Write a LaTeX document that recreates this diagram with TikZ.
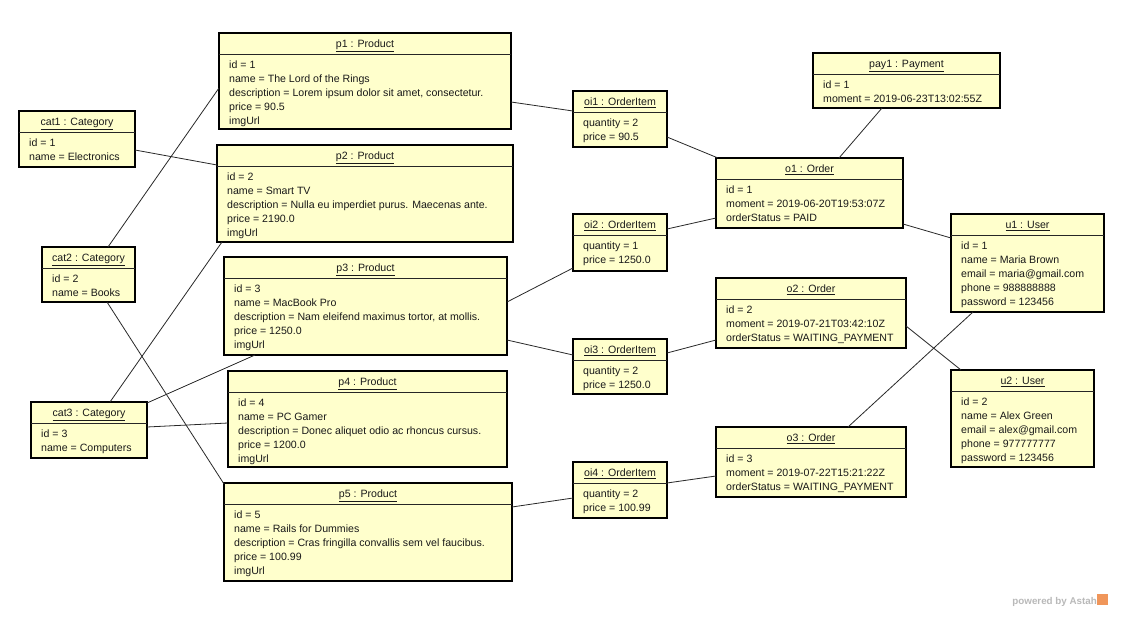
\documentclass[tikz,border=0pt]{standalone}
\usepackage{fontspec}
\setmainfont{Liberation Sans}
\usetikzlibrary{calc}
\definecolor{objfill}{RGB}{255,255,204}
\definecolor{txt}{RGB}{25,25,25}
\definecolor{conn}{RGB}{40,40,40}
\definecolor{astahgray}{RGB}{185,185,185}
\definecolor{astahorange}{RGB}{240,150,90}
\tikzset{
  objbox/.style={draw=black, line width=1.7pt, fill=objfill, rectangle, inner sep=0pt, outer sep=0pt},
  sepline/.style={draw=black!85, line width=0.8pt},
  objtitle/.style={inner sep=0pt, anchor=base, text=txt, font=\fontsize{10.6}{14}\selectfont},
  attr/.style={inner sep=0pt, anchor=base west, text=txt, font=\fontsize{10.6}{14}\selectfont},
  link/.style={draw=conn, line width=0.8pt},
}
\newcommand\obj[7]{%
  \node[objbox, minimum width=#4pt, minimum height=#5pt, anchor=north west] (#1) at (#2,#3) {};
  \draw[sepline] ([yshift=-21pt]#1.north west) -- ([yshift=-21pt]#1.north east);
  \node[objtitle] (#1-t) at ([yshift=-14.5pt]#1.north) {\underline{#6}};
  \foreach \l [count=\i] in {#7}
    \node[attr] (#1-a\i) at ([xshift=10pt, yshift={-35.5pt-(\i-1)*14pt}]#1.north west) {\l};
}
\begin{document}
\begin{tikzpicture}[x=1pt, y=-1pt]
\useasboundingbox[fill=white] (0,0) rectangle (1145,618);
% categories
\obj{cat1}{19}{111}{116}{56}{cat1 : Category}{id = 1, name = Electronics}
\obj{cat2}{42}{247}{93}{55}{cat2 : Category}{id = 2, name = Books}
\obj{cat3}{31}{402}{116}{56}{cat3 : Category}{id = 3, name = Computers}
% products
\obj{p1}{219}{33}{292}{96}{p1 : Product}{id = 1, name = The Lord of the Rings, {description = Lorem ipsum dolor sit amet, consectetur.}, price = 90.5, imgUrl}
\obj{p2}{217}{145}{296}{97}{p2 : Product}{id = 2, name = Smart TV, description = Nulla eu imperdiet purus. Maecenas ante., price = 2190.0, imgUrl}
\obj{p3}{224}{257}{283}{98}{p3 : Product}{id = 3, name = MacBook Pro, {description = Nam eleifend maximus tortor, at mollis.}, price = 1250.0, imgUrl}
\obj{p4}{228}{371}{279}{96}{p4 : Product}{id = 4, name = PC Gamer, description = Donec aliquet odio ac rhoncus cursus., price = 1200.0, imgUrl}
\obj{p5}{224}{483}{288}{98}{p5 : Product}{id = 5, name = Rails for Dummies, description = Cras fringilla convallis sem vel faucibus., price = 100.99, imgUrl}
% order items
\obj{oi1}{573}{91}{94}{56}{oi1 : OrderItem}{quantity = 2, price = 90.5}
\obj{oi2}{573}{214}{94}{57}{oi2 : OrderItem}{quantity = 1, price = 1250.0}
\obj{oi3}{573}{339}{94}{55}{oi3 : OrderItem}{quantity = 2, price = 1250.0}
\obj{oi4}{573}{462}{94}{56}{oi4 : OrderItem}{quantity = 2, price = 100.99}
% orders
\obj{o1}{716}{158}{187}{70}{o1 : Order}{id = 1, moment = 2019-06-20T19:53:07Z, orderStatus = PAID}
\obj{o2}{716}{278}{190}{70}{o2 : Order}{id = 2, moment = 2019-07-21T03:42:10Z, orderStatus = WAITING\_PAYMENT}
\obj{o3}{716}{427}{190}{70}{o3 : Order}{id = 3, moment = 2019-07-22T15:21:22Z, orderStatus = WAITING\_PAYMENT}
% payment
\obj{pay1}{813}{53}{187}{55}{pay1 : Payment}{id = 1, moment = 2019-06-23T13:02:55Z}
% users
\obj{u1}{951}{214}{153}{98}{u1 : User}{id = 1, name = Maria Brown, email = maria@gmail.com, phone = 988888888, password = 123456}
\obj{u2}{951}{370}{143}{97}{u2 : User}{id = 2, name = Alex Green, email = alex@gmail.com, phone = 977777777, password = 123456}
% connectors
\draw[link] ($(cat1.north west)+(116,39)$) -- ($(p2.north west)+(0,20)$);
\draw[link] ($(cat2.north west)+(66,0)$) -- ($(p1.north west)+(0,55)$);
\draw[link] ($(cat2.north west)+(65,55)$) -- ($(p5.north west)+(0,1)$);
\draw[link] ($(cat3.north west)+(79,0)$) -- ($(p2.north west)+(5,97)$);
\draw[link] ($(cat3.north west)+(116,1)$) -- ($(p3.north west)+(31,98)$);
\draw[link] ($(cat3.north west)+(116,25)$) -- ($(p4.north west)+(0,52)$);
\draw[link] ($(p1.north west)+(292,69)$) -- ($(oi1.north west)+(0,20)$);
\draw[link] ($(oi1.north west)+(94,46)$) -- ($(o1.north west)+(2,0)$);
\draw[link] ($(pay1.north west)+(69,55)$) -- ($(o1.north west)+(123,0)$);
\draw[link] ($(p3.north west)+(283,45)$) -- ($(oi2.north west)+(0,54)$);
\draw[link] ($(oi2.north west)+(94,15)$) -- ($(o1.north west)+(0,60)$);
\draw[link] ($(o1.north west)+(187,66)$) -- ($(u1.north west)+(0,24)$);
\draw[link] ($(p3.north west)+(283,83)$) -- ($(oi3.north west)+(0,16)$);
\draw[link] ($(oi3.north west)+(94,14)$) -- ($(o2.north west)+(0,62)$);
\draw[link] ($(o2.north west)+(190,48)$) -- ($(u2.north west)+(10,0)$);
\draw[link] ($(o3.north west)+(132,0)$) -- ($(u1.north west)+(22,98)$);
\draw[link] ($(p5.north west)+(288,24)$) -- ($(oi4.north west)+(0,36)$);
\draw[link] ($(oi4.north west)+(94,21)$) -- ($(o3.north west)+(0,49)$);
% watermark
\node[inner sep=0pt, anchor=base east, text=astahgray, font=\bfseries\fontsize{9.8}{11}\selectfont] (powered) at (1097,604) {powered by Astah};
\node[fill=astahorange, inner sep=0pt, minimum width=11pt, minimum height=11pt, anchor=south west] (logo) at (1097,605) {};
\end{tikzpicture}
\end{document}
